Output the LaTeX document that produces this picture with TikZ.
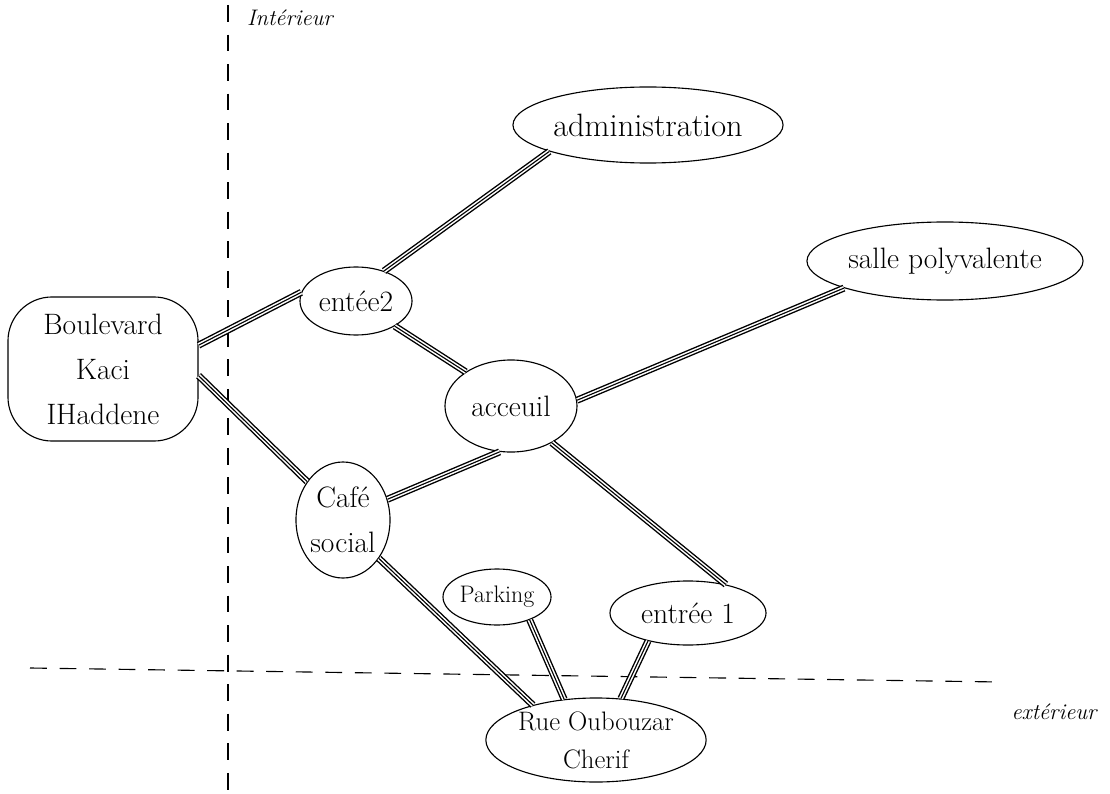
\documentclass[tikz,border=0pt]{standalone}
\usepackage{fontspec}
\usepackage{tikz}
\usetikzlibrary{shapes.geometric}
\begin{document}
\begin{tikzpicture}[
  x=0.025cm,y=-0.025cm,
  place/.style={ellipse,draw,thick,inner sep=0pt,align=center,font=\fontsize{21}{32}\selectfont},
  road/.style={draw,line width=5pt,postaction={draw=white,line width=3pt},postaction={draw,line width=0.8pt}},
  border/.style={dashed,thick,dash pattern=on 12pt off 9pt},
  side/.style={font=\fontsize{16}{18}\selectfont\itshape}
]
\useasboundingbox (0,0) rectangle (1110,794);
% limites interieur / exterieur
\draw[border] (228,5) -- (228,794);
\draw[border] (30,668) -- (1000,682);
\node[side] (inter) at (290,18) {Intérieur};
\node[side] (exter) at (1054,712) {extérieur};
% lieux
\node[place,minimum width=6.75cm,minimum height=1.9cm,font=\fontsize{23}{28}\selectfont] (admin) at (648,125) {administration};
\node[place,minimum width=6.9cm,minimum height=1.95cm] (salle) at (945,261) {salle polyvalente};
\node[place,minimum width=2.8cm,minimum height=1.7cm] (entee2) at (356,301) {entée2};
\node[place,rectangle,rounded corners=1.1cm,minimum width=4.75cm,minimum height=3.6cm] (boul) at (103,369) {Boulevard\\ Kaci\\ IHaddene};
\node[place,minimum width=3.3cm,minimum height=2.3cm] (accueil) at (511,406) {acceuil};
\node[place,minimum width=2.35cm,minimum height=2.9cm] (cafe) at (343,520) {Café\\ social};
\node[place,minimum width=2.7cm,minimum height=1.4cm,font=\fontsize{17}{20}\selectfont] (parking) at (497,597) {Parking};
\node[place,minimum width=5.4cm,minimum height=2.1cm,font=\fontsize{19}{27}\selectfont] (rue) at (596,740) {Rue Oubouzar\\ Cherif};
\node[place,minimum width=3.9cm,minimum height=1.6cm] (entree1) at (688,613) {entrée 1};
% voies
\draw[road] (entee2.47) -- (admin.195);
\draw[road] (boul.14) -- (entee2.171);
\draw[road] (boul.-4) -- (cafe.133);
\draw[road] (entee2.-33) -- (accueil.143);
\draw[road] (accueil.5) -- (salle.195);
\draw[road] (accueil.256) -- (cafe.25);
\draw[road] (accueil.-42) -- (entree1.37);
\draw[road] (cafe.-47) -- (rue.151);
\draw[road] (parking.-35) -- (rue.128);
\draw[road] (entree1.215) -- (rue.59);
\end{tikzpicture}
\end{document}
